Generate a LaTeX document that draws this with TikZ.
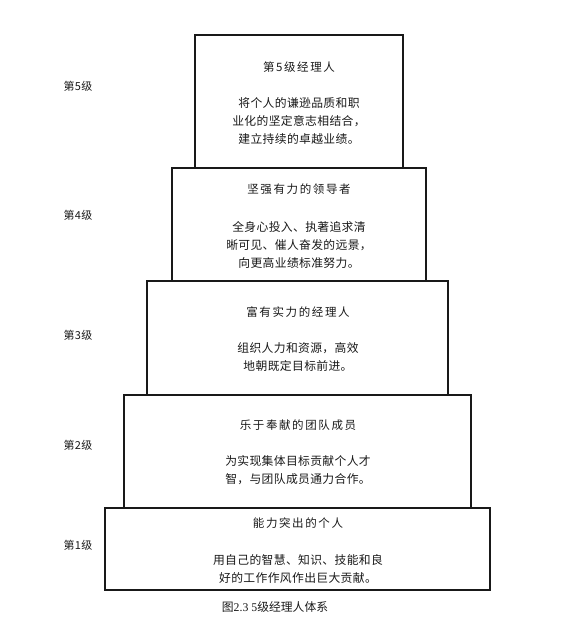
\documentclass[tikz,border=0pt]{standalone}
\usepackage{fontspec}
\setmainfont{Liberation Serif}
\newfontfamily\cjk{Noto Sans CJK SC}
\newfontfamily\cjkt[LetterSpace=14]{Noto Sans CJK SC}
\newfontfamily\cjkb[LetterSpace=3]{Noto Sans CJK SC}
\newfontfamily\cjkl[LetterSpace=4]{Noto Sans CJK SC}
\begin{document}
\begin{tikzpicture}[x=1pt,y=-1pt,
  tier/.style={draw=black!90, line width=1.15pt, anchor=north west, inner sep=0pt, outer sep=0pt},
  title/.style={font=\cjkt\fontsize{11.5}{14}\selectfont, text=black!90, inner sep=0pt},
  body/.style={font=\cjkb\fontsize{11.8}{18}\selectfont, align=center, text=black!90, inner sep=0pt},
  lvl/.style={font=\cjkl\fontsize{11}{12}\selectfont, text=black!90, inner sep=0pt},
  figcap/.style={font=\fontsize{11.8}{13}\selectfont, text=black!90, inner sep=0pt}]
\useasboundingbox (0,0) rectangle (572,627);
% tiers
\node[tier, minimum width=385pt, minimum height=82pt] (t1) at (105,508) {};
\node[tier, minimum width=347pt, minimum height=113pt] (t2) at (124,395) {};
\node[tier, minimum width=301pt, minimum height=114pt] (t3) at (147,281) {};
\node[tier, minimum width=254pt, minimum height=113pt] (t4) at (172,168) {};
\node[tier, minimum width=208pt, minimum height=133pt] (t5) at (195,35) {};
% titles
\node[title] (h5) at (299,67) {第5级经理人};
\node[title] (h4) at (299,189) {坚强有力的领导者};
\node[title] (h3) at (298,312) {富有实力的经理人};
\node[title] (h2) at (298,425) {乐于奉献的团队成员};
\node[title] (h1) at (298,523) {能力突出的个人};
% bodies
\node[body] (d5) at (299,121) {将个人的谦逊品质和职\\业化的坚定意志相结合，\\建立持续的卓越业绩。};
\node[body] (d4) at (299,245) {全身心投入、执著追求清\\晰可见、催人奋发的远景，\\向更高业绩标准努力。};
\node[body] (d3) at (298,357) {组织人力和资源，高效\\地朝既定目标前进。};
\node[body] (d2) at (298,470) {为实现集体目标贡献个人才\\智，与团队成员通力合作。};
\node[body] (d1) at (298,569) {用自己的智慧、知识、技能和良\\好的工作作风作出巨大贡献。};
% level labels
\node[lvl] (l5) at (78,86) {第5级};
\node[lvl] (l4) at (78,215) {第4级};
\node[lvl] (l3) at (78,335) {第3级};
\node[lvl] (l2) at (78,445) {第2级};
\node[lvl] (l1) at (78,545) {第1级};
% caption
\node[figcap] (c) at (275,607) {{\cjk 图}2.3 5{\cjk 级经理人体系}};
\end{tikzpicture}
\end{document}
